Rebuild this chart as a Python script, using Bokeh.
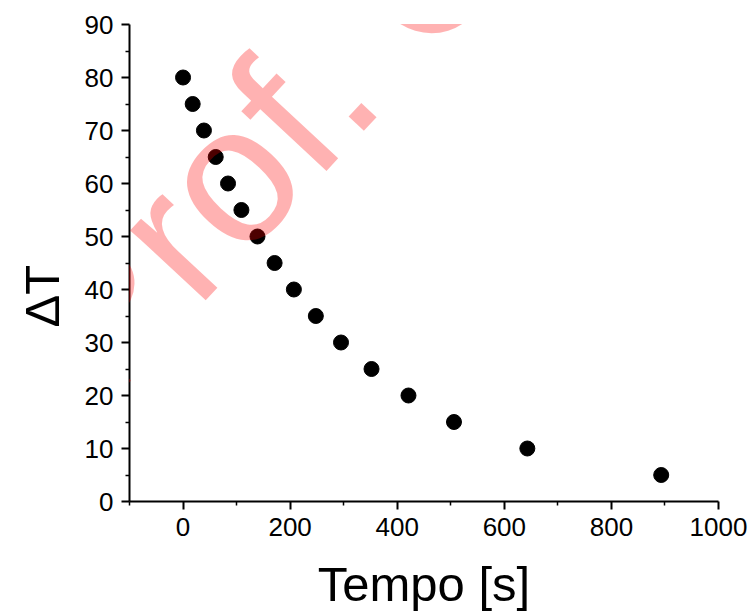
from bokeh.plotting import figure
from bokeh.models import FixedTicker, Title, HTMLLabel
from bokeh.embed import file_html
from bokeh.resources import INLINE
import math

# Data
tempo = [0, 18, 39, 61, 84, 109, 139, 171, 207, 248, 295, 352, 421, 506, 643, 893]
delta_t = [80, 75, 70, 65, 60, 55, 50, 45, 40, 35, 30, 25, 20, 15, 10, 5]

x_major = [0, 200, 400, 600, 800, 1000]
x_minor = [-100, 100, 300, 500, 700, 900]
y_major = [0, 10, 20, 30, 40, 50, 60, 70, 80, 90]
y_minor = [5, 15, 25, 35, 45, 55, 65, 75, 85]

FONT = "Liberation Sans"

p = figure(width=751, height=613, x_range=(-100, 1000), y_range=(0, 90),
           output_backend="svg", toolbar_location=None,
           min_border_left=128, min_border_right=33, min_border_top=24,
           min_border_bottom=112)
p.outline_line_color = None
p.grid.visible = False
p.background_fill_color = "white"
p.border_fill_color = "white"

p.scatter(tempo, delta_t, size=15, color="black")

for ax in (p.xaxis[0], p.yaxis[0]):
    ax.axis_line_width = 2
    ax.axis_line_color = "black"
    ax.major_tick_line_width = 2
    ax.minor_tick_line_width = 1.5
    ax.major_tick_out = 8
    ax.major_tick_in = 0
    ax.minor_tick_out = 4
    ax.minor_tick_in = 0
    ax.major_label_text_font = FONT
    ax.major_label_text_font_size = "26px"
    ax.major_label_text_color = "black"

p.xaxis[0].ticker = FixedTicker(ticks=x_major, minor_ticks=x_minor)
p.yaxis[0].ticker = FixedTicker(ticks=y_major, minor_ticks=y_minor)
p.xaxis[0].major_label_standoff = 8
p.yaxis[0].major_label_standoff = 8

p.xaxis[0].axis_label = "Tempo [s]"
p.xaxis[0].axis_label_text_font = FONT
p.xaxis[0].axis_label_text_font_size = "49px"
p.xaxis[0].axis_label_text_font_style = "normal"
p.xaxis[0].axis_label_text_color = "black"
p.xaxis[0].axis_label_standoff = 18

ytitle = Title(text="ΔT", align="left", offset=174, text_font=FONT,
               text_font_size="49px", text_font_style="normal",
               text_color="black", standoff=25)
p.add_layout(ytitle, "left")

ang = math.radians(47)
wm1 = HTMLLabel(x=-71, y=142, x_units="screen", y_units="screen", text="Prof. C",
                angle=ang, text_align="left", text_baseline="alphabetic",
                text_font=FONT, text_font_size="195px", text_color="red",
                text_alpha=0.3)
p.add_layout(wm1)

open("out.html", "w").write(file_html(p, INLINE))
